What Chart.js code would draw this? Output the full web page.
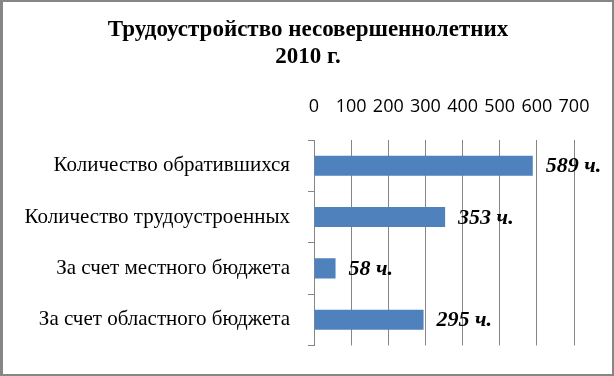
<!DOCTYPE html>
<html>
<head>
<meta charset="utf-8">
<script src="https://cdn.jsdelivr.net/npm/chart.js@4/dist/chart.umd.min.js"></script>
<style>
  html, body { margin: 0; padding: 0; background: #ffffff; }
  #wrap { width: 614px; height: 376px; position: relative; }
</style>
</head>
<body>
<div id="wrap"><canvas id="c" width="614" height="376"></canvas></div>
<script>
const titleLines = ['Трудоустройство несовершеннолетних', '2010 г.'];
const categories = ['Количество обратившихся', 'Количество трудоустроенных', 'За счет местного бюджета', 'За счет областного бюджета'];
const values = [589, 353, 58, 295];
const valueSuffix = ' ч.';
const xTicks = [0, 100, 200, 300, 400, 500, 600, 700];

const GRID = '#868686';

const framePlugin = {
  id: 'frame',
  beforeDraw(chart) {
    const ctx = chart.ctx;
    ctx.save();
    ctx.fillStyle = '#ffffff';
    ctx.fillRect(0, 0, chart.width, chart.height);
    ctx.fillStyle = '#868686';
    ctx.fillRect(0, 0, chart.width, 2);
    ctx.fillRect(0, 0, 3, chart.height);
    ctx.fillRect(chart.width - 2, 0, 2, chart.height);
    ctx.fillRect(0, chart.height - 2, chart.width, 2);
    ctx.restore();
  }
};

const titlePlugin = {
  id: 'customTitle',
  afterDraw(chart) {
    const ctx = chart.ctx;
    ctx.save();
    ctx.font = 'bold 23px "Liberation Serif", "Times New Roman", serif';
    ctx.fillStyle = '#000000';
    ctx.textAlign = 'center';
    ctx.textBaseline = 'middle';
    titleLines.forEach((line, i) => {
      ctx.fillText(line, 308, 30.5 + i * 26.5);
    });
    ctx.restore();
  }
};

const valueLabels = {
  id: 'valueLabels',
  afterDatasetsDraw(chart) {
    const ctx = chart.ctx;
    const meta = chart.getDatasetMeta(0);
    ctx.save();
    ctx.font = 'italic bold 22px "Liberation Serif", "Times New Roman", serif';
    ctx.fillStyle = '#000000';
    ctx.textAlign = 'left';
    ctx.textBaseline = 'middle';
    meta.data.forEach((bar, i) => {
      ctx.fillText(values[i] + valueSuffix, bar.x + 13, bar.y + 1);
    });
    ctx.restore();
  }
};

new Chart(document.getElementById('c'), {
  type: 'bar',
  data: {
    labels: categories,
    datasets: [{
      data: values,
      backgroundColor: '#4f81bd',
      borderWidth: 0,
      barPercentage: 0.39,
      categoryPercentage: 1
    }]
  },
  plugins: [framePlugin, titlePlugin, valueLabels],
  options: {
    indexAxis: 'y',
    responsive: false,
    animation: false,
    events: [],
    layout: { padding: { left: 0, right: 40, top: 70, bottom: 23 } },
    plugins: {
      legend: { display: false },
      tooltip: { enabled: false },
      title: { display: false }
    },
    scales: {
      x: {
        position: 'top',
        min: 0,
        max: 700,
        afterBuildTicks(scale) { scale.ticks = xTicks.map(v => ({ value: v })); },
        afterFit(scale) { scale.height = 70; },
        ticks: {
          color: '#000000',
          padding: 22,
          font: { family: '"Open Sans", sans-serif', size: 18 }
        },
        grid: { color: GRID, lineWidth: 1, drawTicks: false },
        border: { display: false }
      },
      y: {
        afterFit(scale) { scale.width = 314; },
        ticks: {
          color: '#000000',
          padding: 18,
          font: { family: '"Liberation Serif", "Times New Roman", serif', size: 21 }
        },
        grid: { drawOnChartArea: false, drawTicks: true, tickLength: 6, color: GRID, offset: true },
        border: { display: true, color: GRID, width: 1 }
      }
    }
  }
});
</script>
</body>
</html>
